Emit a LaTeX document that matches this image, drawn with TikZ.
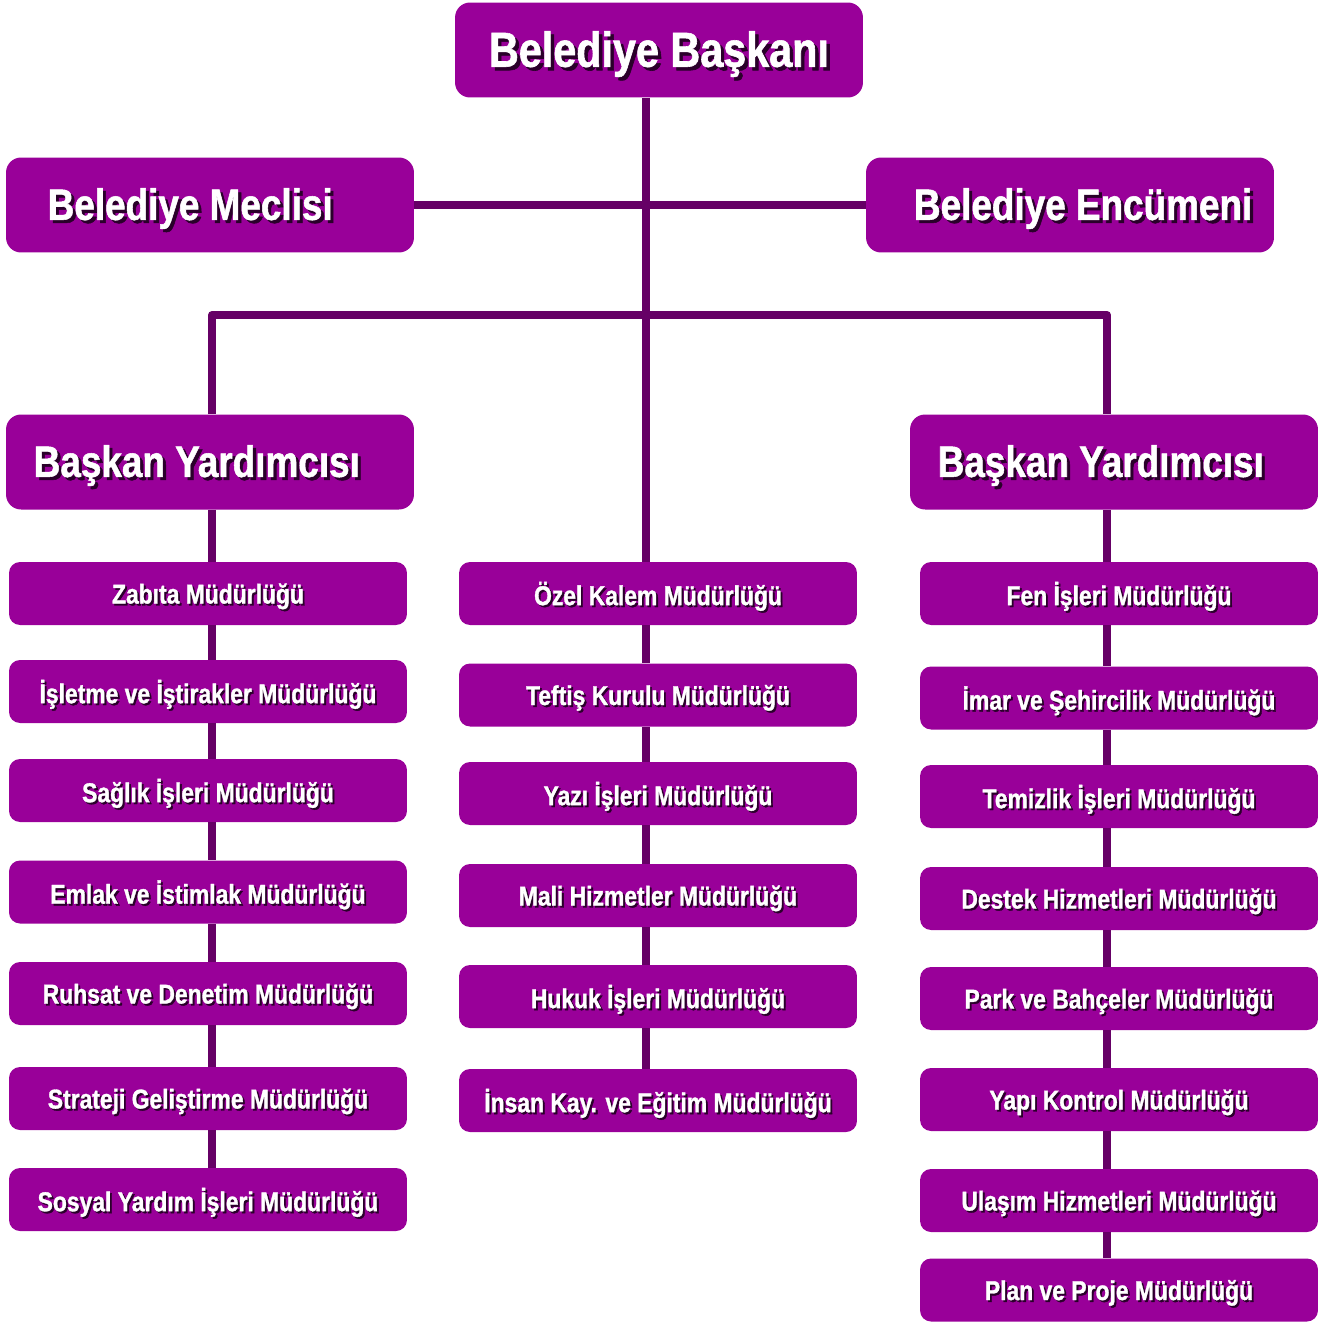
\documentclass[tikz,border=0pt]{standalone}
\usepackage{fontspec}
\newfontfamily\boxfont{Liberation Sans}[FakeStretch=0.84, FakeBold=1.2]
\usetikzlibrary{positioning}

\definecolor{boxfill}{HTML}{990099}
\definecolor{linkline}{HTML}{660066}
\definecolor{textshade}{HTML}{2A002A}

% white text with a dark drop shadow
\newcommand\shadowed[1]{\makebox[0pt][l]{\kern0.07em\raisebox{-0.07em}{\color{textshade}#1}}#1}

\tikzset{
  unit/.style={fill=boxfill, text=white, inner sep=0pt, rounded corners=0.3cm,
    minimum width=8.16cm, minimum height=1.9cm, text depth=0.12em},
  headbox/.style={unit, font=\boxfont\bfseries\fontsize{28}{32}\selectfont},
  boardbox/.style={unit, font=\boxfont\bfseries\fontsize{25}{29}\selectfont},
  deptbox/.style={unit, rounded corners=0.22cm, minimum width=7.96cm,
    minimum height=1.26cm, text depth=0pt,
    font=\boxfont\bfseries\fontsize{15.5}{18}\selectfont},
  link/.style={draw=linkline, line width=4.5pt, line join=round}
}

\begin{document}
\begin{tikzpicture}[x=0.02cm, y=-0.02cm]
\useasboundingbox (0,0) rectangle (1331,1322);

% top and boards
\node[headbox] (baskan) at (659,50) {\shadowed{Belediye Başkanı}};
\node[boardbox] (meclis) at (210,205) {\shadowed{Belediye Meclisi\hspace*{0.9em}}};
\node[boardbox] (encumen) at (1070,205) {\shadowed{\hspace*{0.6em}Belediye Encümeni}};
\node[boardbox] (yardL) at (210,462) {\shadowed{Başkan Yardımcısı\hspace*{0.6em}}};
\node[boardbox] (yardR) at (1114,462) {\shadowed{Başkan Yardımcısı\hspace*{0.6em}}};

% left column
\node[deptbox] (zabita) at (208,593.5) {\shadowed{Zabıta Müdürlüğü}};
\node[deptbox] (isletme) at (208,691.5) {\shadowed{İşletme ve İştirakler Müdürlüğü}};
\node[deptbox] (saglik) at (208,790.5) {\shadowed{Sağlık İşleri Müdürlüğü}};
\node[deptbox] (emlak) at (208,892) {\shadowed{Emlak ve İstimlak Müdürlüğü}};
\node[deptbox] (ruhsat) at (208,993.5) {\shadowed{Ruhsat ve Denetim Müdürlüğü}};
\node[deptbox] (strateji) at (208,1098.5) {\shadowed{Strateji Geliştirme Müdürlüğü}};
\node[deptbox] (sosyal) at (208,1199.5) {\shadowed{Sosyal Yardım İşleri Müdürlüğü}};

% middle column
\node[deptbox] (ozel) at (658,593.5) {\shadowed{Özel Kalem Müdürlüğü}};
\node[deptbox] (teftis) at (658,695) {\shadowed{Teftiş Kurulu Müdürlüğü}};
\node[deptbox] (yazi) at (658,793.5) {\shadowed{Yazı İşleri Müdürlüğü}};
\node[deptbox] (mali) at (658,895.5) {\shadowed{Mali Hizmetler Müdürlüğü}};
\node[deptbox] (hukuk) at (658,996.5) {\shadowed{Hukuk İşleri Müdürlüğü}};
\node[deptbox] (insan) at (658,1100.5) {\shadowed{İnsan Kay. ve Eğitim Müdürlüğü}};

% right column
\node[deptbox] (fen) at (1119,593.5) {\shadowed{Fen İşleri Müdürlüğü}};
\node[deptbox] (imar) at (1119,698) {\shadowed{İmar ve Şehircilik Müdürlüğü}};
\node[deptbox] (temizlik) at (1119,796.5) {\shadowed{Temizlik İşleri Müdürlüğü}};
\node[deptbox] (destek) at (1119,898.5) {\shadowed{Destek Hizmetleri Müdürlüğü}};
\node[deptbox] (park) at (1119,998.5) {\shadowed{Park ve Bahçeler Müdürlüğü}};
\node[deptbox] (yapi) at (1119,1099.5) {\shadowed{Yapı Kontrol Müdürlüğü}};
\node[deptbox] (ulasim) at (1119,1200.5) {\shadowed{Ulaşım Hizmetleri Müdürlüğü}};
\node[deptbox] (plan) at (1119,1290) {\shadowed{Plan ve Proje Müdürlüğü}};

% line positions
\coordinate (lx) at (212,0);
\coordinate (mx) at (646,0);
\coordinate (rx) at (1107,0);
\coordinate (fork) at (646,315);

% connectors
\draw[link] (baskan.south -| mx) -- (ozel.north -| mx);
\draw[link] (meclis.east) -- (encumen.west);
\draw[link] (yardL.north -| lx) |- (fork) -| (yardR.north -| rx);
\foreach \a/\b in {yardL/zabita, zabita/isletme, isletme/saglik, saglik/emlak,
    emlak/ruhsat, ruhsat/strateji, strateji/sosyal}
  \draw[link] (\a.south -| lx) -- (\b.north -| lx);
\foreach \a/\b in {ozel/teftis, teftis/yazi, yazi/mali, mali/hukuk, hukuk/insan}
  \draw[link] (\a.south -| mx) -- (\b.north -| mx);
\foreach \a/\b in {yardR/fen, fen/imar, imar/temizlik, temizlik/destek,
    destek/park, park/yapi, yapi/ulasim, ulasim/plan}
  \draw[link] (\a.south -| rx) -- (\b.north -| rx);
\end{tikzpicture}
\end{document}
